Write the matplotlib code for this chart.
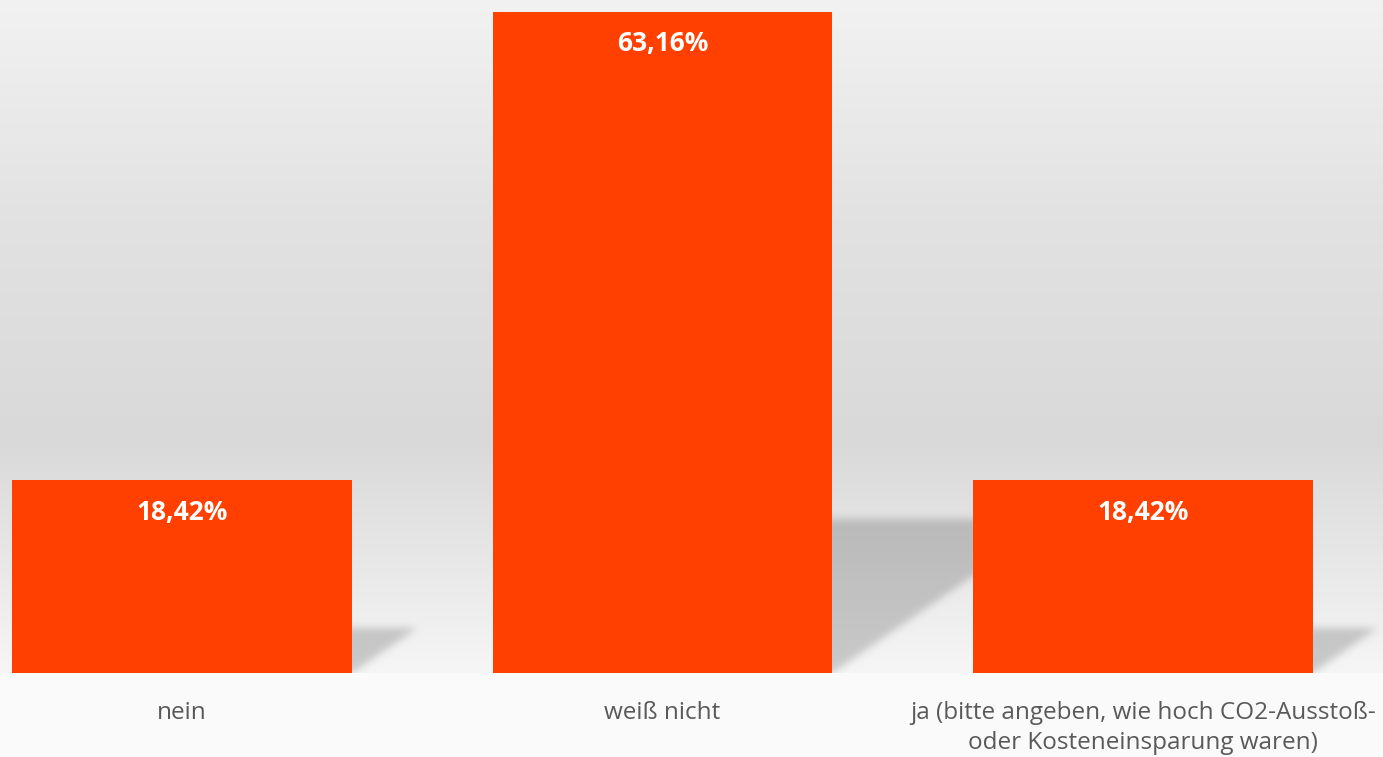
import numpy as np
import matplotlib.pyplot as plt

# Antworten und Anteile (%)
kategorien = ["nein", "weiß nicht",
              "ja (bitte angeben, wie hoch CO2-Ausstoß-\noder Kosteneinsparung waren)"]
anteile = [18.42, 63.16, 18.42]
beschriftungen = ["18,42%", "63,16%", "18,42%"]

plt.rcParams['font.family'] = ['Open Sans', 'DejaVu Sans']

W, H = 1383, 757
fig = plt.figure(figsize=(W / 100, H / 100), dpi=100)
fig.patch.set_facecolor('#fafafa')

# Plotbereich: unten bei 673 px, oben am Bildrand
base_px = 673
ax = fig.add_axes([0, (H - base_px) / H, 1, base_px / H])
x = np.arange(len(anteile))
px_x = 480.5                      # Pixel pro Kategorie
bar_w = 340 / px_x
x0 = -0.5 + 58 / px_x
x1 = 2.5
ymax = max(anteile) + 12 / (661 / max(anteile))
px_y = base_px / ymax
ax.set_xlim(x0, x1)
ax.set_ylim(0, ymax)

# Hintergrund-Verlauf mit weichem Schatten hinter den Balken
rows = np.arange(base_px) + 0.5
stops_px = [0, 220, 440, 540, 620, 673]
stops_val = [242, 226, 217, 229, 239, 246]
bg = np.interp(rows, stops_px, stops_val)[:, None] * np.ones((1, W))

cols = (np.arange(W) + 0.5) / W * (x1 - x0) + x0
yy = (base_px - rows) / px_y
X, Y = np.meshgrid(cols, yy)
k = 1.45 * px_y / px_x            # Scherung des Schattens
mask = np.zeros_like(bg)
for xi, h in zip(x, anteile):
    sh = 0.233 * h
    xs = X - k * Y
    inside = (Y >= 0) & (Y <= sh) & (xs >= xi - bar_w / 2) & (xs <= xi + bar_w / 2)
    mask = np.maximum(mask, inside.astype(float))

g = np.exp(-0.5 * (np.arange(-12, 13) / 4.0) ** 2)
g /= g.sum()
mask = np.apply_along_axis(lambda r: np.convolve(r, g, mode='same'), 1, mask)
mask = np.apply_along_axis(lambda c: np.convolve(c, g, mode='same'), 0, mask)
img = bg * (1 - 0.18 * mask) / 255.0
ax.imshow(np.dstack([img, img, img]), extent=(x0, x1, 0, ymax),
          aspect='auto', origin='upper', zorder=0, interpolation='bilinear')

ax.bar(x, anteile, width=bar_w, color='#ff4000', zorder=2)

for xi, h, txt in zip(x, anteile, beschriftungen):
    ax.text(xi, h - 32 / px_y, txt, ha='center', va='center',
            color='white', fontsize=19, fontweight='bold', zorder=3)

ax.set_xticks(x)
ax.set_xticklabels(kategorien, fontsize=17.5, color='#595959', linespacing=1.35)
ax.tick_params(axis='x', length=0, pad=20)
ax.set_yticks([])
for s in ax.spines.values():
    s.set_visible(False)

fig.savefig('out.png', dpi=100, facecolor=fig.get_facecolor())
